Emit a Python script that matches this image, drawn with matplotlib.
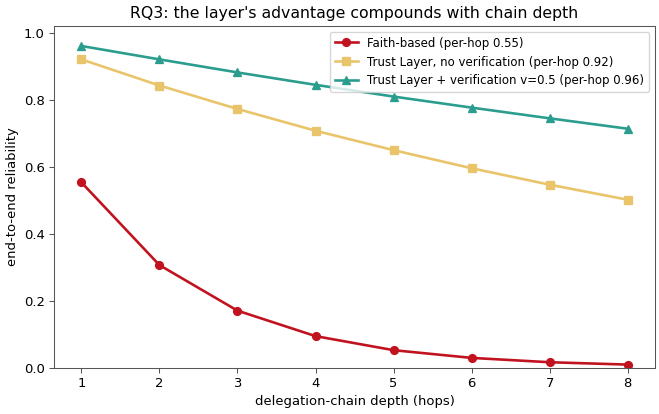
import matplotlib
matplotlib.use("Agg")
import matplotlib.pyplot as plt

# ── Data ──────────────────────────────────────────────────────────────
hops        = [1, 2, 3, 4, 5, 6, 7, 8]
faith       = [0.553, 0.306, 0.170, 0.094, 0.052, 0.029, 0.016, 0.009]
trust_nover = [0.920, 0.842, 0.772, 0.707, 0.649, 0.595, 0.546, 0.501]
trust_ver   = [0.960, 0.920, 0.881, 0.844, 0.809, 0.776, 0.744, 0.713]

labels = ["Faith-based (per-hop 0.55)",
          "Trust Layer, no verification (per-hop 0.92)",
          "Trust Layer + verification v=0.5 (per-hop 0.96)"]
colors = ["#c1121f", "#e9c46a", "#2a9d8f"]
markers = ["o", "s", "^"]

plt.rcParams.update({
    "font.family": "DejaVu Sans",
    "axes.edgecolor": "#555555",
    "xtick.color": "#555555",
    "ytick.color": "#555555",
    "xtick.labelcolor": "black",
    "ytick.labelcolor": "black",
})

fig, ax = plt.subplots(figsize=(7, 4.4), dpi=659 / 7)
for ys, lab, c, m in zip([faith, trust_nover, trust_ver], labels, colors, markers):
    ax.plot(hops, ys, color=c, marker=m, markersize=6, linewidth=2, label=lab)

ax.set_ylim(0, 1.02)
ax.set_xticks(hops)
ax.set_xlabel("delegation-chain depth (hops)", fontsize=10)
ax.set_ylabel("end-to-end reliability", fontsize=10)
ax.set_title("RQ3: the layer's advantage compounds with chain depth", fontsize=12)
ax.legend(loc="upper right", fontsize=9)
fig.subplots_adjust(left=0.082, right=0.994, top=0.937, bottom=0.112)
fig.savefig("out.png")
